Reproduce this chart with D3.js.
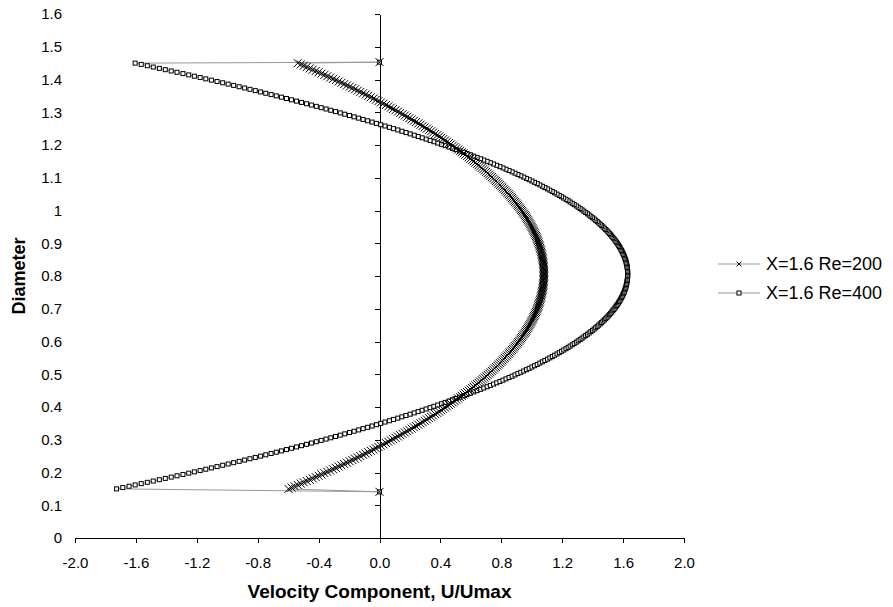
<!DOCTYPE html>
<html>
<head>
<meta charset="utf-8">
<title>Velocity profile</title>
<script src="https://d3js.org/d3.v7.min.js"></script>
<style>
  body { margin: 0; background: #fff; font-family: "Liberation Sans", Arial, sans-serif; }
  .axis path, .axis line { stroke: #000; shape-rendering: crispEdges; }
  .axis text { font-family: "Liberation Sans", Arial, sans-serif; font-size: 15px; fill: #000; }
  .conn { fill: none; stroke: #999; stroke-width: 1; }
  .title { font-weight: bold; fill: #000; }
</style>
</head>
<body>
<svg width="893" height="607"></svg>
<script>
// diameter positions (shared by both series); first/last are the walls
const diameter = [0.141,
  0.15,0.154,0.158,0.162,0.166,0.17,0.174,0.178,0.182,0.186,0.19,0.194,0.198,0.202,0.206,0.21,0.214,0.218,0.222,0.226,0.23,0.234,0.238,0.242,0.246,
  0.25,0.254,0.258,0.262,0.266,0.27,0.274,0.278,0.282,0.286,0.29,0.294,0.298,0.302,0.306,0.31,0.314,0.318,0.322,0.326,0.33,0.334,0.338,0.342,0.346,
  0.35,0.354,0.358,0.362,0.366,0.37,0.374,0.378,0.382,0.386,0.39,0.394,0.398,0.402,0.406,0.41,0.414,0.418,0.422,0.426,0.43,0.434,0.438,0.442,0.446,
  0.45,0.454,0.458,0.462,0.466,0.47,0.474,0.478,0.482,0.486,0.49,0.494,0.498,0.502,0.506,0.51,0.514,0.518,0.522,0.526,0.53,0.534,0.538,0.542,0.546,
  0.55,0.554,0.558,0.562,0.566,0.57,0.574,0.578,0.582,0.586,0.59,0.594,0.598,0.602,0.606,0.61,0.614,0.618,0.622,0.626,0.63,0.634,0.638,0.642,0.646,
  0.65,0.654,0.658,0.662,0.666,0.67,0.674,0.678,0.682,0.686,0.69,0.694,0.698,0.702,0.706,0.71,0.714,0.718,0.722,0.726,0.73,0.734,0.738,0.742,0.746,
  0.75,0.754,0.758,0.762,0.766,0.77,0.774,0.778,0.782,0.786,0.79,0.794,0.798,0.802,0.806,0.81,0.814,0.818,0.822,0.826,0.83,0.834,0.838,0.842,0.846,
  0.85,0.854,0.858,0.862,0.866,0.87,0.874,0.878,0.882,0.886,0.89,0.894,0.898,0.902,0.906,0.91,0.914,0.918,0.922,0.926,0.93,0.934,0.938,0.942,0.946,
  0.95,0.954,0.958,0.962,0.966,0.97,0.974,0.978,0.982,0.986,0.99,0.994,0.998,1.002,1.006,1.01,1.014,1.018,1.022,1.026,1.03,1.034,1.038,1.042,1.046,
  1.05,1.054,1.058,1.062,1.066,1.07,1.074,1.078,1.082,1.086,1.09,1.094,1.098,1.102,1.106,1.11,1.114,1.118,1.122,1.126,1.13,1.134,1.138,1.142,1.146,
  1.15,1.154,1.158,1.162,1.166,1.17,1.174,1.178,1.182,1.186,1.19,1.194,1.198,1.202,1.206,1.21,1.214,1.218,1.222,1.226,1.23,1.234,1.238,1.242,1.246,
  1.25,1.254,1.258,1.262,1.266,1.27,1.274,1.278,1.282,1.286,1.29,1.294,1.298,1.302,1.306,1.31,1.314,1.318,1.322,1.326,1.33,1.334,1.338,1.342,1.346,
  1.35,1.354,1.358,1.362,1.366,1.37,1.374,1.378,1.382,1.386,1.39,1.394,1.398,1.402,1.406,1.41,1.414,1.418,1.422,1.426,1.43,1.434,1.438,1.442,1.446,
  1.45,
  1.453];

// U/Umax, X=1.6 Re=200
const u200 = [0,
  -0.598,-0.578,-0.558,-0.537,-0.517,-0.498,-0.478,-0.458,-0.439,-0.419,-0.400,-0.381,-0.362,-0.343,-0.324,-0.305,-0.287,-0.268,-0.250,-0.232,-0.214,-0.196,-0.178,-0.161,-0.143,
  -0.126,-0.108,-0.091,-0.074,-0.057,-0.040,-0.024,-0.007,0.009,0.025,0.042,0.058,0.074,0.089,0.105,0.121,0.136,0.151,0.166,0.181,0.196,0.211,0.226,0.240,0.255,
  0.269,0.283,0.297,0.311,0.325,0.339,0.352,0.366,0.379,0.392,0.405,0.418,0.431,0.443,0.456,0.468,0.481,0.493,0.505,0.517,0.529,0.540,0.552,0.563,0.575,
  0.586,0.597,0.608,0.618,0.629,0.640,0.650,0.660,0.671,0.681,0.691,0.700,0.710,0.720,0.729,0.738,0.747,0.757,0.765,0.774,0.783,0.791,0.800,0.808,0.816,
  0.824,0.832,0.840,0.848,0.855,0.863,0.870,0.877,0.884,0.891,0.898,0.905,0.911,0.918,0.924,0.930,0.936,0.942,0.948,0.954,0.959,0.965,0.970,0.975,0.980,
  0.985,0.990,0.995,0.999,1.004,1.008,1.012,1.016,1.020,1.024,1.028,1.031,1.035,1.038,1.041,1.044,1.047,1.050,1.052,1.055,1.057,1.060,1.062,1.064,1.066,
  1.068,1.069,1.071,1.072,1.074,1.075,1.076,1.077,1.078,1.078,1.079,1.079,1.080,1.080,1.080,1.080,1.080,1.079,1.079,1.078,1.078,1.077,1.076,1.075,1.074,
  1.072,1.071,1.069,1.068,1.066,1.064,1.062,1.060,1.057,1.055,1.052,1.050,1.047,1.044,1.041,1.038,1.035,1.031,1.028,1.024,1.020,1.016,1.012,1.008,1.004,
  0.999,0.995,0.990,0.985,0.980,0.975,0.970,0.965,0.959,0.954,0.948,0.942,0.936,0.930,0.924,0.918,0.911,0.905,0.898,0.891,0.884,0.877,0.870,0.863,0.855,
  0.848,0.840,0.832,0.824,0.816,0.808,0.800,0.791,0.783,0.774,0.765,0.757,0.747,0.738,0.729,0.720,0.710,0.700,0.691,0.681,0.671,0.660,0.650,0.640,0.629,
  0.618,0.608,0.597,0.586,0.575,0.563,0.552,0.540,0.529,0.517,0.505,0.493,0.481,0.468,0.456,0.443,0.431,0.418,0.405,0.392,0.379,0.366,0.352,0.339,0.325,
  0.311,0.297,0.283,0.269,0.255,0.240,0.226,0.211,0.196,0.181,0.166,0.151,0.136,0.121,0.105,0.089,0.074,0.058,0.042,0.025,0.009,-0.007,-0.024,-0.040,-0.057,
  -0.074,-0.091,-0.108,-0.126,-0.143,-0.161,-0.178,-0.196,-0.214,-0.232,-0.250,-0.268,-0.287,-0.305,-0.324,-0.343,-0.362,-0.381,-0.400,-0.419,-0.439,-0.458,-0.478,-0.498,-0.517,
  -0.537,
  0];

// U/Umax, X=1.6 Re=400
const u400 = [0,
  -1.727,-1.686,-1.645,-1.605,-1.565,-1.525,-1.486,-1.446,-1.407,-1.368,-1.330,-1.291,-1.253,-1.216,-1.178,-1.141,-1.104,-1.067,-1.030,-0.994,-0.958,-0.922,-0.886,-0.851,-0.816,
  -0.781,-0.747,-0.712,-0.678,-0.644,-0.611,-0.578,-0.545,-0.512,-0.479,-0.447,-0.415,-0.383,-0.351,-0.320,-0.289,-0.258,-0.228,-0.197,-0.167,-0.137,-0.108,-0.078,-0.049,-0.020,
  0.008,0.036,0.065,0.092,0.120,0.147,0.174,0.201,0.228,0.254,0.280,0.306,0.332,0.357,0.382,0.407,0.431,0.456,0.480,0.504,0.527,0.551,0.574,0.597,0.619,
  0.641,0.664,0.685,0.707,0.728,0.749,0.770,0.791,0.811,0.831,0.851,0.871,0.890,0.909,0.928,0.947,0.965,0.983,1.001,1.018,1.036,1.053,1.070,1.086,1.103,
  1.119,1.135,1.150,1.166,1.181,1.196,1.210,1.225,1.239,1.252,1.266,1.279,1.293,1.305,1.318,1.330,1.342,1.354,1.366,1.377,1.388,1.399,1.410,1.420,1.430,
  1.440,1.450,1.459,1.468,1.477,1.486,1.494,1.502,1.510,1.518,1.525,1.532,1.539,1.546,1.552,1.558,1.564,1.570,1.575,1.580,1.585,1.590,1.594,1.598,1.602,
  1.606,1.609,1.612,1.615,1.618,1.620,1.622,1.624,1.626,1.627,1.628,1.629,1.630,1.630,1.630,1.630,1.630,1.629,1.628,1.627,1.626,1.624,1.622,1.620,1.618,
  1.615,1.612,1.609,1.606,1.602,1.598,1.594,1.590,1.585,1.580,1.575,1.570,1.564,1.558,1.552,1.546,1.539,1.532,1.525,1.518,1.510,1.502,1.494,1.486,1.477,
  1.468,1.459,1.450,1.440,1.430,1.420,1.410,1.399,1.388,1.377,1.366,1.354,1.342,1.330,1.318,1.305,1.293,1.279,1.266,1.252,1.239,1.225,1.210,1.196,1.181,
  1.166,1.150,1.135,1.119,1.103,1.086,1.070,1.053,1.036,1.018,1.001,0.983,0.965,0.947,0.928,0.909,0.890,0.871,0.851,0.831,0.811,0.791,0.770,0.749,0.728,
  0.707,0.685,0.664,0.641,0.619,0.597,0.574,0.551,0.527,0.504,0.480,0.456,0.431,0.407,0.382,0.357,0.332,0.306,0.280,0.254,0.228,0.201,0.174,0.147,0.120,
  0.092,0.065,0.036,0.008,-0.020,-0.049,-0.078,-0.108,-0.137,-0.167,-0.197,-0.228,-0.258,-0.289,-0.320,-0.351,-0.383,-0.415,-0.447,-0.479,-0.512,-0.545,-0.578,-0.611,-0.644,
  -0.678,-0.712,-0.747,-0.781,-0.816,-0.851,-0.886,-0.922,-0.958,-0.994,-1.030,-1.067,-1.104,-1.141,-1.178,-1.216,-1.253,-1.291,-1.330,-1.368,-1.407,-1.446,-1.486,-1.525,-1.565,
  -1.605,
  0];

const seriesNames = ["X=1.6 Re=200", "X=1.6 Re=400"];
const xTicks = [-2, -1.6, -1.2, -0.8, -0.4, 0, 0.4, 0.8, 1.2, 1.6, 2];
const xTickLabels = ["-2.0", "-1.6", "-1.2", "-0.8", "-0.4", "0.0", "0.4", "0.8", "1.2", "1.6", "2.0"];
const yTicks = [0, 0.1, 0.2, 0.3, 0.4, 0.5, 0.6, 0.7, 0.8, 0.9, 1, 1.1, 1.2, 1.3, 1.4, 1.5, 1.6];
const yTickLabels = ["0", "0.1", "0.2", "0.3", "0.4", "0.5", "0.6", "0.7", "0.8", "0.9", "1", "1.1", "1.2", "1.3", "1.4", "1.5", "1.6"];

const svg = d3.select("svg");

const x = d3.scaleLinear().domain([-2, 2]).range([75, 684]);
const y = d3.scaleLinear().domain([0, 1.6]).range([538, 14]);

// x axis along y = 0
svg.append("g")
  .attr("class", "axis")
  .attr("transform", `translate(0,${y(0)})`)
  .call(d3.axisBottom(x)
    .tickValues(xTicks)
    .tickFormat(d => xTickLabels[xTicks.indexOf(d)])
    .tickSize(5).tickSizeOuter(0).tickPadding(14));

// vertical axis crossing at u = 0 (ticks only)
svg.append("g")
  .attr("class", "axis")
  .attr("transform", `translate(${x(0)},0)`)
  .call(d3.axisLeft(y).tickValues(yTicks).tickFormat("").tickSize(5).tickSizeOuter(0));

// y tick labels sit at the left edge of the plot
const yLab = svg.append("g")
  .attr("class", "axis")
  .attr("transform", `translate(${x(-2)},0)`)
  .call(d3.axisLeft(y)
    .tickValues(yTicks)
    .tickFormat(d => yTickLabels[yTicks.indexOf(d)])
    .tickSize(0).tickPadding(13));
yLab.select(".domain").remove();

// axis titles
svg.append("text")
  .attr("class", "title")
  .attr("x", x(0)).attr("y", 598)
  .attr("text-anchor", "middle")
  .style("font-size", "19px")
  .text("Velocity Component, U/Umax");

svg.append("text")
  .attr("class", "title")
  .attr("transform", `translate(19,${y(0.8)}) rotate(-90)`)
  .attr("text-anchor", "middle")
  .attr("dominant-baseline", "central")
  .style("font-size", "18px")
  .text("Diameter");

const line = d3.line().x(d => x(d.u)).y(d => y(d.y));

const pts200 = diameter.map((d, i) => ({ y: d, u: u200[i] }));
const pts400 = diameter.map((d, i) => ({ y: d, u: u400[i] }));

function drawSquares(sel) {
  sel.append("rect")
    .attr("x", -2).attr("y", -2)
    .attr("width", 4).attr("height", 4)
    .attr("fill", "#fff").attr("stroke", "#000").attr("stroke-width", 1);
}
function drawCross(sel, r) {
  sel.append("path")
    .attr("d", `M${-r},${-r}L${r},${r}M${-r},${r}L${r},${-r}`)
    .attr("fill", "none").attr("stroke", "#000").attr("stroke-width", 1);
}

// Re=400 series
svg.append("path").datum(pts400).attr("class", "conn").attr("d", line);
svg.append("g").selectAll("g").data(pts400).join("g")
  .attr("transform", d => `translate(${x(d.u)},${y(d.y)})`)
  .call(drawSquares);

// Re=200 series
svg.append("path").datum(pts200).attr("class", "conn").attr("d", line);
svg.append("g").selectAll("g").data(pts200).join("g")
  .attr("transform", d => `translate(${x(d.u)},${y(d.y)})`)
  .call(drawCross, 4);

// legend
const legend = svg.append("g").attr("transform", "translate(718,264)");
seriesNames.forEach((name, i) => {
  const row = legend.append("g").attr("transform", `translate(0,${i * 29})`);
  row.append("line").attr("x1", 0).attr("x2", 42).attr("y1", 0).attr("y2", 0)
    .attr("stroke", "#999").attr("stroke-width", 1);
  const m = row.append("g").attr("transform", "translate(21,0)");
  if (i === 0) drawCross(m, 2.5);
  else drawSquares(m);
  row.append("text")
    .attr("x", 48).attr("y", 0)
    .attr("dominant-baseline", "central")
    .style("font-size", "18px")
    .text(name);
});
</script>
</body>
</html>
